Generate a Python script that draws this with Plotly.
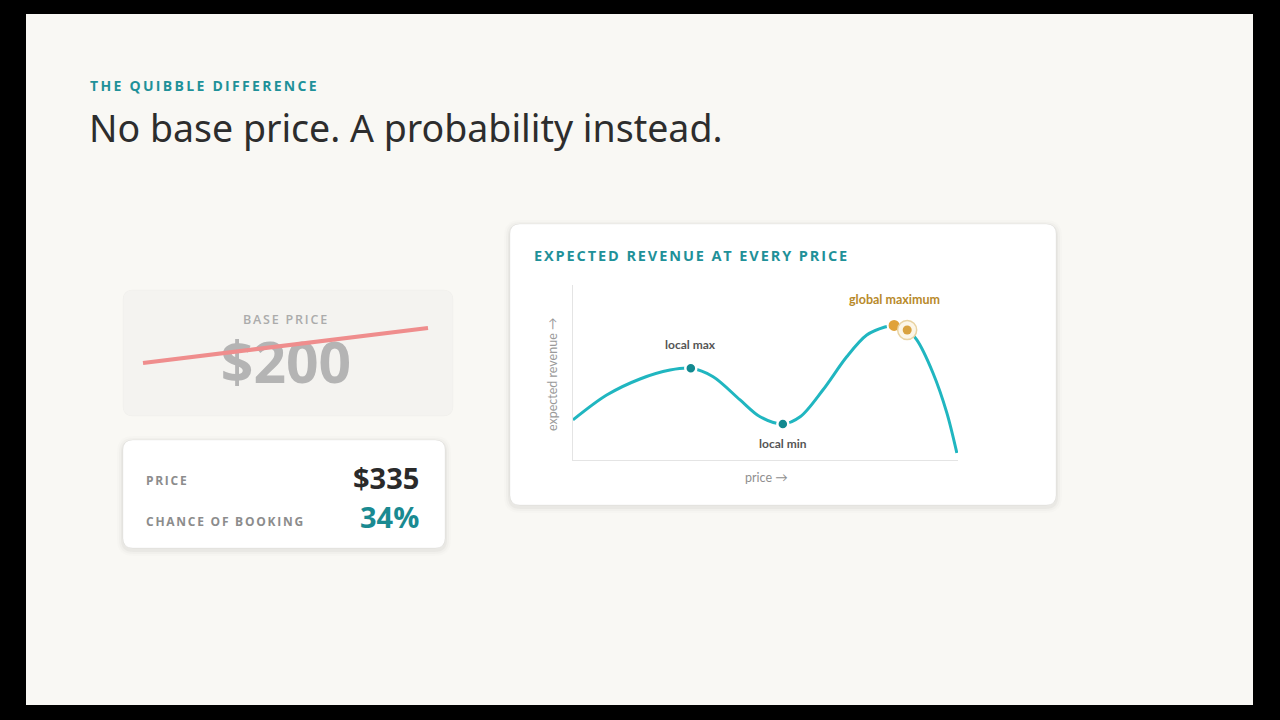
import plotly.graph_objects as go

W, H = 1280, 720

# ---------------- data ----------------
price = [0, 8.75, 17.4, 25.2, 30.6, 36.4, 43.4, 48.6, 54.5, 59.0, 64.9, 71.1, 76.3, 81.0, 83.4, 86.8, 89.3, 93.5, 97.1, 99.7]
revenue = [22.9, 37.1, 46.3, 51.4, 52.4, 47.6, 34.3, 24.7, 20.6, 24.7, 40.0, 59.0, 71.4, 76.0, 76.9, 74.3, 68.6, 49.7, 26.9, 4.0]

local_pts_price = [30.6, 54.5]
local_pts_revenue = [52.4, 20.6]
local_labels = ["local max", "local min"]

global_max_price = [83.4]
global_max_revenue = [76.9]
current_price = [86.8]
current_revenue = [74.3]

base_price_label = "$200"
offer_price_label = "$335"
booking_chance_label = "34%"


def px(x):
    return x / W


def py(y):
    return 1 - y / H


def rrect(x0, y0, x1, y1, r):
    return (f"M {px(x0+r)},{py(y0)} L {px(x1-r)},{py(y0)} Q {px(x1)},{py(y0)} {px(x1)},{py(y0+r)} "
            f"L {px(x1)},{py(y1-r)} Q {px(x1)},{py(y1)} {px(x1-r)},{py(y1)} "
            f"L {px(x0+r)},{py(y1)} Q {px(x0)},{py(y1)} {px(x0)},{py(y1-r)} "
            f"L {px(x0)},{py(y0+r)} Q {px(x0)},{py(y0)} {px(x0+r)},{py(y0)} Z")


fig = go.Figure()

# curve
fig.add_trace(go.Scatter(
    x=price, y=revenue, mode="lines",
    line=dict(color="#20b6c0", width=3, shape="spline", smoothing=0.9),
    xaxis="x", yaxis="y", hoverinfo="skip"))
# local points
fig.add_trace(go.Scatter(
    x=local_pts_price, y=local_pts_revenue, mode="markers",
    marker=dict(size=11, color="#128990", line=dict(color="white", width=2.5)),
    xaxis="x", yaxis="y", hoverinfo="skip"))
# global maximum
fig.add_trace(go.Scatter(
    x=global_max_price, y=global_max_revenue, mode="markers",
    marker=dict(size=13, color="#e0a239", line=dict(color="white", width=2)),
    xaxis="x", yaxis="y", hoverinfo="skip"))
# current position ring + dot
fig.add_trace(go.Scatter(
    x=current_price, y=current_revenue, mode="markers",
    marker=dict(size=19, color="#fcf6e8", line=dict(color="#e9d3a2", width=1.5)),
    xaxis="x", yaxis="y", hoverinfo="skip"))
fig.add_trace(go.Scatter(
    x=current_price, y=current_revenue, mode="markers",
    marker=dict(size=9, color="#d9a23f"),
    xaxis="x", yaxis="y", hoverinfo="skip"))

# "$200" as a text trace on a full-page overlay axis (so strike line can be above)
fig.add_trace(go.Scatter(
    x=[286], y=[369], mode="text", text=[base_price_label],
    textfont=dict(family="Open Sans", size=57, color="#b4b4b4", weight="bold"),
    textposition="middle center", xaxis="x2", yaxis="y2", hoverinfo="skip"))

shapes = []
# slide
shapes.append(dict(type="rect", xref="paper", yref="paper", x0=px(26), x1=px(1253), y0=py(705), y1=py(14),
                   fillcolor="#f9f8f4", line=dict(width=0), layer="below"))
# base price card
shapes.append(dict(type="path", xref="paper", yref="paper", path=rrect(123, 290, 453, 416, 10),
                   fillcolor="#f4f3f0", line=dict(color="rgba(0,0,0,0.02)", width=1), layer="below"))


def card_with_shadow(x0, y0, x1, y1, r):
    for i, a in [(6, 0.012), (4, 0.018), (2, 0.03)]:
        shapes.append(dict(type="path", xref="paper", yref="paper",
                           path=rrect(x0 - i, y0 - i + 2, x1 + i, y1 + i + 2, r + i),
                           fillcolor=f"rgba(0,0,0,{a})", line=dict(width=0), layer="below"))
    shapes.append(dict(type="path", xref="paper", yref="paper", path=rrect(x0, y0, x1, y1, r),
                       fillcolor="#ffffff", line=dict(color="rgba(0,0,0,0.04)", width=1), layer="below"))


card_with_shadow(123, 440, 445, 548, 10)
card_with_shadow(510, 224, 1056, 505, 10)

# strike-through line on base price
shapes.append(dict(type="line", xref="paper", yref="paper", x0=px(143), y0=py(363), x1=px(428), y1=py(328),
                   line=dict(color="#ef8d8d", width=4), layer="above"))

ann = []


def text(x, y, s, size, color, family="Open Sans", weight="normal", xanchor="left", spacing=None, angle=0):
    if spacing:
        s = f'<span style="letter-spacing:{spacing}px">{s}</span>'
    ann.append(dict(x=px(x), y=py(y), xref="paper", yref="paper", text=s, showarrow=False,
                    xanchor=xanchor, yanchor="middle", textangle=angle,
                    font=dict(family=family, size=size, color=color, weight=weight)))


text(88, 85, "THE QUIBBLE DIFFERENCE", 14, "#1f9199", weight="bold", spacing=2.3)
text(87, 127, "No base price. A probability instead.", 37.5, "#2d2d2d", family="Noto Sans")
text(286, 319, "BASE PRICE", 12.5, "#ababab", weight=600, xanchor="center", spacing=1.8)
text(144, 481, "PRICE", 12, "#8c8c8c", weight="bold", spacing=1.7)
text(144, 521, "CHANCE OF BOOKING", 12, "#8c8c8c", weight="bold", spacing=1.75)
text(421, 477, offer_price_label, 29, "#2a2a2a", weight="bold", xanchor="right")
text(421, 516, booking_chance_label, 29, "#1a8a91", weight="bold", xanchor="right")
text(532, 255, "EXPECTED REVENUE AT EVERY PRICE", 14.5, "#1f9199", weight="bold", spacing=1.9)
text(552, 375, "expected revenue →", 12.5, "#9a9a9a", family="Lato", xanchor="center", angle=-90)
text(766, 477, "price →", 12.5, "#8f8f8f", family="Lato", xanchor="center")

# data-point labels
for xv, yv, lab, shift in zip(local_pts_price, local_pts_revenue, local_labels, [24, -20]):
    ann.append(dict(x=xv, y=yv, xref="x", yref="y", text=lab, showarrow=False, yshift=shift,
                    font=dict(family="Lato", size=12, color="#555555", weight="bold")))
ann.append(dict(x=global_max_price[0], y=global_max_revenue[0], xref="x", yref="y", text="global maximum",
                showarrow=False, yshift=26, font=dict(family="Lato", size=12.5, color="#b88a2b", weight="bold")))

fig.update_layout(
    width=W, height=H, margin=dict(l=0, r=0, t=0, b=0),
    paper_bgcolor="#000000", plot_bgcolor="rgba(0,0,0,0)",
    showlegend=False, hovermode=False,
    shapes=shapes, annotations=ann,
    xaxis=dict(domain=[px(573), px(958)], range=[0, 100], showline=True, linecolor="#e4e4e4", linewidth=1,
               showticklabels=False, ticks="", showgrid=False, zeroline=False, anchor="y", fixedrange=True),
    yaxis=dict(domain=[py(460), py(285)], range=[0, 100], showline=True, linecolor="#e4e4e4", linewidth=1,
               showticklabels=False, ticks="", showgrid=False, zeroline=False, anchor="x", fixedrange=True),
    xaxis2=dict(domain=[0, 1], range=[0, W], visible=False, anchor="y2", fixedrange=True),
    yaxis2=dict(domain=[0, 1], range=[H, 0], visible=False, anchor="x2", fixedrange=True),
)

fig.write_html("out.html", config={"displayModeBar": False})
